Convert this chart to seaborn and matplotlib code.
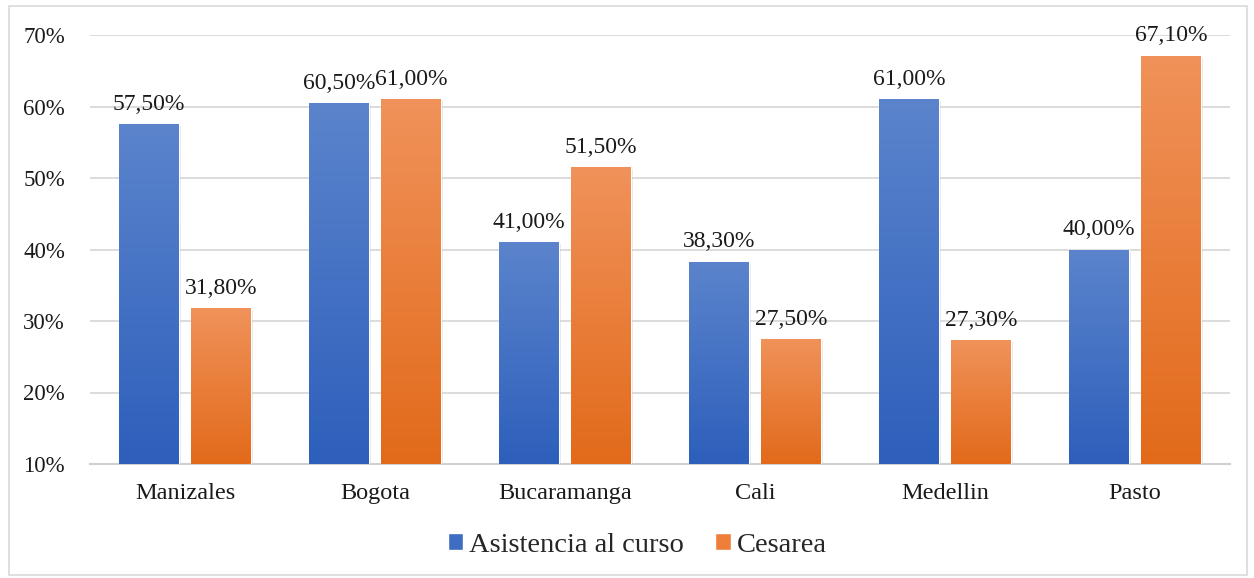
import numpy as np
import pandas as pd
import matplotlib
matplotlib.use("Agg")
import matplotlib.pyplot as plt
import seaborn as sns
from matplotlib.colors import LinearSegmentedColormap
from matplotlib.patches import Rectangle
import matplotlib.patheffects as pe

categories = ["Manizales", "Bogota", "Bucaramanga", "Cali", "Medellin", "Pasto"]
asistencia = [57.5, 60.5, 41.0, 38.3, 61.0, 40.0]
cesarea = [31.8, 61.0, 51.5, 27.5, 27.3, 67.1]
series_names = ["Asistencia al curso", "Cesarea"]
yticks = [10, 20, 30, 40, 50, 60, 70]

df = pd.DataFrame({
    "cat": categories * 2,
    "serie": [series_names[0]] * len(categories) + [series_names[1]] * len(categories),
    "val": asistencia + cesarea,
})

sns.set_theme(style="white")
plt.rcParams["font.family"] = ["Liberation Serif", "DejaVu Serif"]
FAM = ["Liberation Serif", "DejaVu Serif"]

fig = plt.figure(figsize=(12.54, 5.78), dpi=100)
ax = fig.add_axes([90 / 1254, 1 - 464 / 578, 1140 / 1254, (464 - 35) / 578])

colors = {"Asistencia al curso": "#4472C4", "Cesarea": "#ED7D31"}
sns.barplot(data=df, x="cat", y="val", hue="serie", order=categories,
            hue_order=series_names, palette=colors, width=0.76, gap=0.17,
            ax=ax, legend=False, zorder=3)

ax.set_ylim(10, 70)
ax.set_xlim(-0.5, len(categories) - 0.5)
ax.set_yticks(yticks)
ax.set_yticklabels([f"{t}%" for t in yticks], fontsize=16.5, color="#1a1a1a", family=FAM)
for lbl in ax.get_xticklabels():
    lbl.set_family(FAM)
ax.tick_params(axis="x", labelsize=17.5, colors="#1a1a1a", length=0, pad=14)
ax.tick_params(axis="y", length=0, pad=18)
ax.set_xlabel("")
ax.set_ylabel("")
ax.yaxis.grid(True, color="#d9d9d9", linewidth=1.3, zorder=0)
ax.set_axisbelow(True)
for s in ["top", "right", "left"]:
    ax.spines[s].set_visible(False)
ax.spines["bottom"].set_color("#d0d0d0")
ax.spines["bottom"].set_linewidth(1.5)

grads = {
    "Asistencia al curso": LinearSegmentedColormap.from_list("b", ["#2D5FBB", "#5B84CC"]),
    "Cesarea": LinearSegmentedColormap.from_list("o", ["#E26A1A", "#F0925A"]),
}
grad = np.linspace(0, 1, 256).reshape(-1, 1)
vals_by_series = [asistencia, cesarea]
bar_patches = [p for p in ax.patches if p.get_height() > 0]
for idx, p in enumerate(bar_patches[:2 * len(categories)]):
    sidx = idx // len(categories)
    name = series_names[sidx]
    x0 = p.get_x()
    w = p.get_width()
    h = p.get_height()
    y0 = ax.get_ylim()[0]
    top = p.get_y() + h
    p.set_path_effects([pe.SimplePatchShadow(offset=(1.5, -1.5), shadow_rgbFace="#999999", alpha=0.25), pe.Normal()])
    im = ax.imshow(grad, extent=[x0, x0 + w, y0, top], origin="lower",
                   cmap=grads[name], aspect="auto", zorder=3.5)
    clip = Rectangle((x0, y0), w, top - y0, transform=ax.transData)
    im.set_clip_path(clip)
    v = vals_by_series[sidx][idx % len(categories)]
    ax.text(x0 + w / 2, top + 1.3, f"{v:.2f}%".replace(".", ","),
            ha="center", va="bottom", fontsize=17, color="#1a1a1a", zorder=5, family=FAM)

ax.set_xlim(-0.5, len(categories) - 0.5)
ax.set_ylim(10, 70)

handles = [Rectangle((0, 0), 1, 1, facecolor="#3F6DC2"), Rectangle((0, 0), 1, 1, facecolor="#EE7F3A")]
fig.legend(handles, series_names, loc="center", bbox_to_anchor=(0.508, (578 - 545) / 578),
           ncol=2, frameon=False, prop={"family": FAM, "size": 20.5},
           handlelength=0.55, handleheight=0.55, handletextpad=0.2, columnspacing=1.1)

border = Rectangle((9 / 1254, 3 / 578), 1238 / 1254, 569 / 578, transform=fig.transFigure,
                   fill=False, edgecolor="#d9d9d9", linewidth=1.2)
fig.patches.append(border)

fig.savefig("out.png", dpi=100)
